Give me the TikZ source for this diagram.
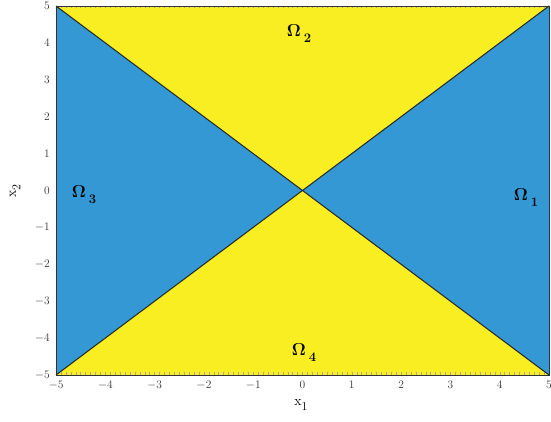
\documentclass[tikz,border=0pt]{standalone}
\usepackage{amsmath}
\begin{document}
\begin{tikzpicture}[x=1pt,y=1pt,
  ticklab/.style={font=\fontsize{11.5}{11.5}\selectfont, text=black!80, inner sep=1pt},
  omega/.style={font=\fontsize{18}{18}\selectfont, inner sep=0pt},
  minortick/.style={draw=black!35, line width=0.4pt},
  majortick/.style={draw=black!70, line width=0.5pt}]
\definecolor{regblue}{RGB}{51,152,212}
\definecolor{regyellow}{RGB}{249,238,34}
\useasboundingbox (0,0) rectangle (551,422);
% corners of the plot box (x: -5..5 -> 56..549, y: -5..5 -> 47..416)
\coordinate (BL) at (56,47);
\coordinate (BR) at (549,47);
\coordinate (TL) at (56,416);
\coordinate (TR) at (549,416);
\coordinate (O) at (302.5,231.5);
% regions
\fill[regyellow] (BL) rectangle (TR);
\fill[regblue] (TL) -- (O) -- (BL) -- cycle;
\fill[regblue] (TR) -- (O) -- (BR) -- cycle;
% minor ticks on bottom and top
\foreach \i in {-50,...,50} {
  \pgfmathsetmacro{\xx}{56+(\i+50)*4.93}
  \draw[minortick] (\xx,47) -- (\xx,49.5);
  \draw[minortick] (\xx,416) -- (\xx,413.5);
}
% diagonals
\draw[line width=1pt, black!85] (TL) -- (BR);
\draw[line width=1pt, black!85] (BL) -- (TR);
% frame
\draw[line width=0.9pt, black!80] (BL) rectangle (TR);
% x tick labels
\foreach \v in {-5,...,5} {
  \pgfmathsetmacro{\xx}{56+(\v+5)*49.3}
  \ifnum\v<0
    \node[ticklab, anchor=north] (xt\v) at (\xx,42) {$-$\the\numexpr-\v\relax};
  \else
    \node[ticklab, anchor=north] (xt\v) at (\xx,42) {\v};
  \fi
}
% y tick labels
\foreach \v in {-5,...,5} {
  \pgfmathsetmacro{\yy}{47+(\v+5)*36.9}
  \ifnum\v<0
    \node[ticklab, anchor=east] (yt\v) at (51,\yy) {$-$\the\numexpr-\v\relax};
  \else
    \node[ticklab, anchor=east] (yt\v) at (51,\yy) {\v};
  \fi
}
% axis labels
\node[font=\fontsize{14}{14}\selectfont] (xlab) at (301,17) {x\raisebox{-4.5pt}{\fontsize{12}{12}\selectfont 1}};
\node[font=\fontsize{14}{14}\selectfont, rotate=90] (ylab) at (15,231) {x\raisebox{-4.5pt}{\fontsize{12}{12}\selectfont 2}};
% region labels
\node[omega] (o1) at (526,224) {$\boldsymbol{\Omega}$\,\raisebox{-6pt}{\fontsize{13}{13}\selectfont\bfseries 1}};
\node[omega] (o2) at (299,388) {$\boldsymbol{\Omega}$\,\raisebox{-6pt}{\fontsize{13}{13}\selectfont\bfseries 2}};
\node[omega] (o3) at (84,227) {$\boldsymbol{\Omega}$\,\raisebox{-6pt}{\fontsize{13}{13}\selectfont\bfseries 3}};
\node[omega] (o4) at (304,69) {$\boldsymbol{\Omega}$\,\raisebox{-6pt}{\fontsize{13}{13}\selectfont\bfseries 4}};
\end{tikzpicture}
\end{document}
